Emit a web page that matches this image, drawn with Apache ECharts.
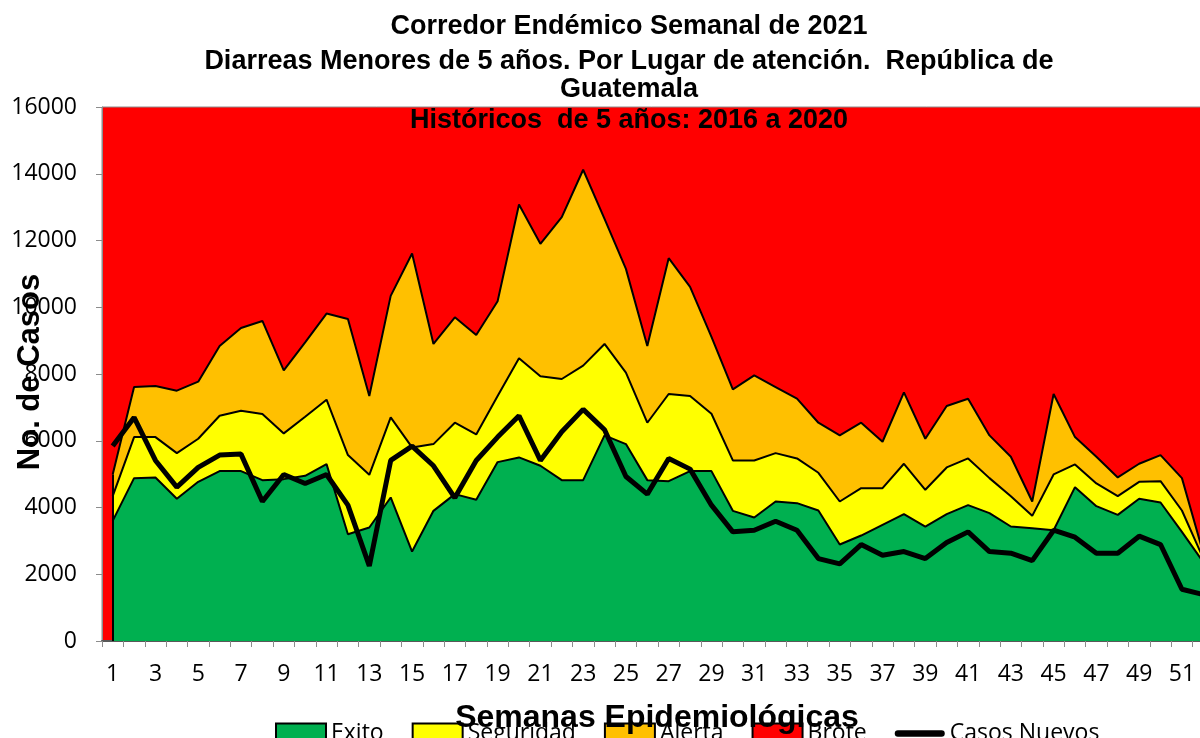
<!DOCTYPE html>
<html>
<head>
<meta charset="utf-8">
<script src="https://cdn.jsdelivr.net/npm/echarts@6/dist/echarts.min.js"></script>
<style>html,body{margin:0;padding:0;background:#fff}#c{width:1200px;height:738px}</style>
</head>
<body>
<div id="c"></div>
<script>
const weeks = [1,2,3,4,5,6,7,8,9,10,11,12,13,14,15,16,17,18,19,20,21,22,23,24,25,26,27,28,29,30,31,32,33,34,35,36,37,38,39,40,41,42,43,44,45,46,47,48,49,50,51,52];
const exito = [3600,4880,4900,4260,4770,5090,5090,4820,4850,4950,5300,3200,3400,4300,2680,3900,4400,4230,5360,5500,5250,4820,4820,6160,5900,4820,4790,5090,5090,3900,3700,4180,4130,3910,2890,3160,3480,3800,3430,3800,4070,3830,3430,3380,3320,4610,4040,3780,4260,4150,3270,2360];
const seguridad = [4340,6110,6110,5630,6060,6750,6900,6800,6220,6720,7230,5570,4980,6700,5800,5900,6540,6190,7340,8470,7930,7850,8250,8900,8040,6540,7400,7340,6810,5410,5410,5630,5470,5040,4180,4580,4580,5310,4530,5200,5470,4880,4340,3750,4990,5290,4720,4340,4770,4790,3910,2470];
const alerta = [4990,7610,7640,7500,7770,8840,9380,9590,8110,8950,9810,9650,7340,10340,11610,8900,9700,9170,10180,13080,11900,12700,14120,12650,11150,8840,11470,10610,9110,7540,7960,7610,7260,6540,6160,6540,5970,7450,6060,7040,7260,6160,5520,4180,7400,6110,5520,4900,5310,5570,4880,2630];
const casos = [5840,6700,5410,4610,5200,5570,5600,4180,4990,4720,4990,4070,2250,5410,5840,5250,4290,5410,6110,6750,5410,6270,6940,6330,4930,4400,5470,5150,4070,3270,3320,3590,3320,2470,2310,2890,2570,2680,2470,2950,3270,2680,2630,2410,3320,3110,2630,2630,3140,2890,1550,1390];
const yTicks = [0,2000,4000,6000,8000,10000,12000,14000,16000];

const chart = echarts.init(document.getElementById('c'), null, {renderer:'canvas'});
const titleFont = 'bold 27px "Liberation Sans", Arial, sans-serif';
const areaLine = {color:'#000', width:2};
chart.setOption({
  animation:false,
  backgroundColor:'#fff',
  grid:{left:102, top:107, width:1112, height:534, outerBoundsMode:'none', containLabel:false, show:true, backgroundColor:'#ff0000', borderColor:'#8c8c8c', borderWidth:1},
  xAxis:{type:'category', data:weeks, boundaryGap:true,
    axisLine:{lineStyle:{color:'#595959', width:2}},
    axisTick:{show:true, interval:0, length:6, lineStyle:{color:'#8c8c8c'}},
    axisLabel:{interval:1, fontFamily:'Open Sans', fontSize:23, color:'#000', margin:22},
    splitLine:{show:false}},
  yAxis:{type:'value', min:yTicks[0], max:yTicks[yTicks.length-1], interval:yTicks[1]-yTicks[0],
    axisLine:{show:true, lineStyle:{color:'#8c8c8c'}},
    axisTick:{show:true, length:6, lineStyle:{color:'#8c8c8c'}},
    axisLabel:{fontFamily:'Open Sans', fontSize:23, color:'#000', margin:25, formatter:function(v){return String(v);}},
    splitLine:{show:false}},
  legend:{left:270, top:717, itemWidth:50, itemHeight:20, itemGap:28, z:1,
    textStyle:{fontFamily:'Open Sans', fontSize:23, color:'#000'},
    data:[
      {name:'Exito', icon:'rect', itemStyle:{color:'#00b050', borderColor:'#000', borderWidth:2}},
      {name:'Seguridad', icon:'rect', itemStyle:{color:'#ffff00', borderColor:'#000', borderWidth:2}},
      {name:'Alerta', icon:'rect', itemStyle:{color:'#ffc000', borderColor:'#000', borderWidth:2}},
      {name:'Brote', icon:'rect', itemStyle:{color:'#ff0000', borderColor:'#000', borderWidth:2}},
      {name:'Casos Nuevos', icon:'path://M3.5,0H51.5A3.5,3.5 0 0 1 51.5,7H3.5A3.5,3.5 0 0 1 3.5,0Z', itemStyle:{color:'#000', borderWidth:0}}
    ]},
  series:[
    {name:'Alerta', type:'line', data:alerta, symbol:'none', itemStyle:{color:'#ffc000'}, lineStyle:areaLine, areaStyle:{color:'#ffc000', opacity:1}, z:2},
    {name:'Seguridad', type:'line', data:seguridad, symbol:'none', itemStyle:{color:'#ffff00'}, lineStyle:areaLine, areaStyle:{color:'#ffff00', opacity:1}, z:3},
    {name:'Exito', type:'line', data:exito, symbol:'none', itemStyle:{color:'#00b050'}, lineStyle:areaLine, areaStyle:{color:'#00b050', opacity:1}, z:4,
      markLine:{symbol:'none', silent:true, label:{show:false}, lineStyle:{color:'#000', width:2, type:'solid'},
        data:[[{coord:[0,0]},{coord:[0,alerta[0]]}]]}},
    {name:'Brote', type:'line', data:[], symbol:'none', itemStyle:{color:'#ff0000'}, z:1},
    {name:'Casos Nuevos', type:'line', data:casos, symbol:'none', itemStyle:{color:'#000'}, lineStyle:{color:'#000', width:5}, z:6}
  ],
  graphic:[
    {type:'text', x:629, y:27, z:100, style:{text:'Corredor Endémico Semanal de 2021', font:titleFont, fill:'#000', align:'center', verticalAlign:'middle'}},
    {type:'text', x:629, y:62, z:100, style:{text:'Diarreas Menores de 5 años. Por Lugar de atención.  República de', font:titleFont, fill:'#000', align:'center', verticalAlign:'middle'}},
    {type:'text', x:629, y:90, z:100, style:{text:'Guatemala', font:titleFont, fill:'#000', align:'center', verticalAlign:'middle'}},
    {type:'text', x:629, y:121, z:100, style:{text:'Históricos  de 5 años: 2016 a 2020', font:titleFont, fill:'#000', align:'center', verticalAlign:'middle'}},
    {type:'text', x:30, y:372, rotation:Math.PI/2, z:100, style:{text:'No. de Casos', font:'bold 31px "Liberation Sans", Arial, sans-serif', fill:'#000', align:'center', verticalAlign:'middle'}},
    {type:'text', x:657, y:718, z:100, style:{text:'Semanas Epidemiológicas', font:'bold 32px "Liberation Sans", Arial, sans-serif', fill:'#000', align:'center', verticalAlign:'middle'}}
  ]
});
</script>
</body>
</html>
